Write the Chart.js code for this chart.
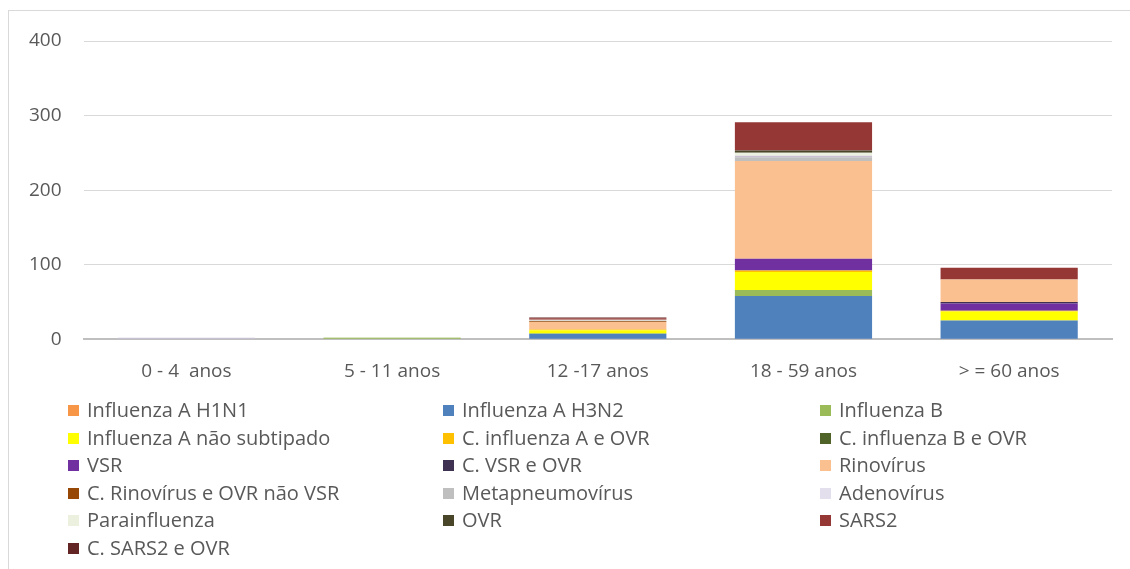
<!DOCTYPE html>
<html>
<head>
<meta charset="utf-8">
<script src="https://cdn.jsdelivr.net/npm/chart.js@4/dist/chart.umd.min.js"></script>
<style>
body{margin:0;background:#fff;font-family:"Open Sans","Liberation Sans",sans-serif;}
#wrap{position:relative;width:1130px;height:569px;}
#frame{position:absolute;left:8px;top:10px;width:1130px;height:600px;border:1px solid #d9d9d9;box-sizing:border-box;}
#legend{position:absolute;left:68px;top:396px;width:1060px;}
.item{position:absolute;font-size:20px;color:#595959;white-space:nowrap;}
.item span{display:inline-block;width:11px;height:11px;margin-right:8px;vertical-align:1px;}
</style>
</head>
<body>
<div id="wrap">
<div id="frame"></div>
<canvas id="barChart" width="1130" height="569"></canvas>
<div id="legend"></div>
</div>
<script>
window.onload = function(){

	var categories = ["0 - 4  anos", "5 - 11 anos", "12 -17 anos", "18 - 59 anos", "> = 60 anos"];
	var yTicks = [0, 100, 200, 300, 400];

	// values per series, one per age group
	var influenzaAH1N1 = [0, 0, 0, 0, 0];
	var influenzaAH3N2 = [0, 0, 7, 58, 25];
	var influenzaB = [0, 2, 1, 8, 0];
	var influenzaANaoSubtipado = [0, 0, 4, 24, 12];
	var cInfluenzaAeOVR = [0, 0, 1, 2, 1];
	var cInfluenzaBeOVR = [0, 0, 0, 0, 0];
	var vsr = [0, 0, 0, 16, 10];
	var cVsrEOVR = [0, 0, 0, 0, 2];
	var rinovirus = [0, 0, 10, 131, 30];
	var cRinovirusEOVR = [0, 0, 1, 0, 0];
	var metapneumovirus = [0, 0, 1, 5, 0];
	var adenovirus = [2, 0, 0, 2, 0];
	var parainfluenza = [0, 1, 1, 4, 0];
	var ovr = [0, 0, 0, 3, 0];
	var sars2 = [0, 0, 2, 38, 16];
	var cSars2EOVR = [0, 0, 1, 0, 0];

	var dataForChart = {
		labels: categories,
		datasets: [
			{label: "Influenza A H1N1", data: influenzaAH1N1, backgroundColor: "#f79646"},
			{label: "Influenza A H3N2", data: influenzaAH3N2, backgroundColor: "#4f81bd"},
			{label: "Influenza B", data: influenzaB, backgroundColor: "#9bbb59"},
			{label: "Influenza A não subtipado", data: influenzaANaoSubtipado, backgroundColor: "#ffff00"},
			{label: "C. influenza A e OVR", data: cInfluenzaAeOVR, backgroundColor: "#ffc000"},
			{label: "C. influenza B e OVR", data: cInfluenzaBeOVR, backgroundColor: "#4f6228"},
			{label: "VSR", data: vsr, backgroundColor: "#7030a0"},
			{label: "C. VSR e OVR", data: cVsrEOVR, backgroundColor: "#3f3151"},
			{label: "Rinovírus", data: rinovirus, backgroundColor: "#fac090"},
			{label: "C. Rinovírus e OVR não VSR", data: cRinovirusEOVR, backgroundColor: "#974806"},
			{label: "Metapneumovírus", data: metapneumovirus, backgroundColor: "#bfbfbf"},
			{label: "Adenovírus", data: adenovirus, backgroundColor: "#c9c0d6"},
			{label: "Parainfluenza", data: parainfluenza, backgroundColor: "#ebf1de"},
			{label: "OVR", data: ovr, backgroundColor: "#494529"},
			{label: "SARS2", data: sars2, backgroundColor: "#953735"},
			{label: "C. SARS2 e OVR", data: cSars2EOVR, backgroundColor: "#632523"}
		]
	};

	for (var i = 0; i < dataForChart.datasets.length; i++){
		dataForChart.datasets[i].barPercentage = 0.667;
		dataForChart.datasets[i].categoryPercentage = 1;
	}

	var ctx = document.getElementById('barChart').getContext('2d');

	var chart = new Chart(ctx, {
		type: 'bar',
		data: dataForChart,
		options: {
			responsive: false,
			animation: false,
			layout: {padding: {left: 7, right: 18, top: 41, bottom: 173}},
			plugins: {legend: {display: false}, tooltip: {enabled: false}},
			scales: {
				x: {
					stacked: true,
					grid: {display: false},
					border: {color: "#bfbfbf", width: 2},
					ticks: {color: "#595959", font: {family: "Open Sans", size: 19}, padding: 13}
				},
				y: {
					stacked: true,
					min: 0, max: 400,
					afterBuildTicks: function(axis){ axis.ticks = yTicks.map(function(v){ return {value: v}; }); },
					grid: {color: "#d9d9d9", drawTicks: false},
					border: {display: false},
					ticks: {color: "#595959", font: {family: "Open Sans", size: 19}, padding: 22}
				}
			}
		}
	});

	// legend in three columns, built from the chart datasets
	var legend = document.getElementById('legend');
	var colX = [0, 375, 752];
	chart.data.datasets.forEach(function(ds, k){
		var el = document.createElement('div');
		el.className = 'item';
		el.style.left = colX[k % 3] + 'px';
		el.style.top = (Math.floor(k / 3) * 27.5) + 'px';
		el.innerHTML = '<span style="background:' + (k == 11 ? "#e4dfec" : ds.backgroundColor) + '"></span>' + ds.label;
		legend.appendChild(el);
	});
}
</script>
</body>
</html>
